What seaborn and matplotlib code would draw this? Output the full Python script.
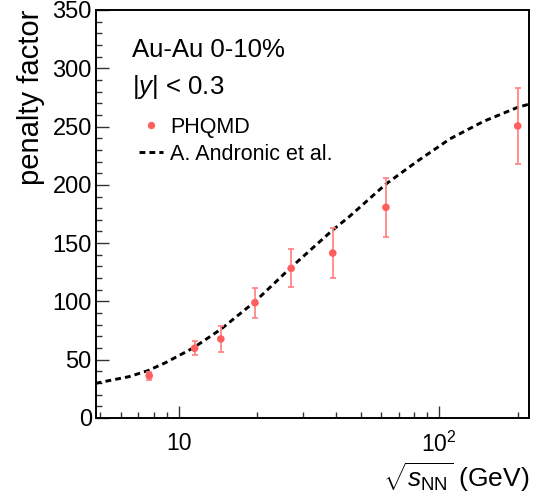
import matplotlib
matplotlib.use("Agg")
import matplotlib.pyplot as plt
from matplotlib.lines import Line2D
from matplotlib.ticker import FixedLocator, FixedFormatter, MultipleLocator, NullFormatter
import seaborn as sns

# PHQMD: collision energy (GeV), penalty factor and its uncertainty
energy = [7.7, 11.5, 14.5, 19.6, 27.0, 39.0, 62.4, 200.0]
penalty = [36.3, 59.8, 67.8, 98.9, 128.4, 141.5, 180.7, 250.5]
penalty_err = [3.5, 6.0, 11.3, 12.9, 16.3, 21.3, 25.6, 33.0]

# A. Andronic et al. curve
curve_energy = [4.8, 6.45, 7.6, 8.9, 11.3, 14.5, 19.6, 27.0, 39.0, 45.0,
                62.4, 82.0, 110.0, 148.0, 200.0, 220.0]
curve_penalty = [29.8, 35.5, 40.6, 47.5, 59.8, 76.1, 99.8, 129.3, 161.3, 172.5,
                 200.7, 220.0, 239.5, 254.5, 266.5, 269.1]

x_major = [10, 100]
x_major_labels = ["10", r"$10^{2}$"]
x_minor = [5, 6, 7, 8, 9, 20, 30, 40, 50, 60, 70, 80, 90, 200]

point_color = "#ff5e5e"
err_color = "#ff7e7e"

sns.set_theme(style="ticks")
plt.rcParams["font.family"] = ["Liberation Sans", "DejaVu Sans"]
plt.rcParams["mathtext.fontset"] = "custom"
plt.rcParams["mathtext.rm"] = "Liberation Sans"
plt.rcParams["mathtext.it"] = "Liberation Sans:italic"
plt.rcParams["mathtext.bf"] = "Liberation Sans:bold"
plt.rcParams["text.color"] = "black"
plt.rcParams["axes.labelcolor"] = "black"
plt.rcParams["xtick.color"] = "black"
plt.rcParams["ytick.color"] = "black"

fig = plt.figure(figsize=(5.46, 5.01), dpi=100)
W, H = 546.0, 501.0
ax = fig.add_axes([96 / W, 1 - 418 / H, (529 - 96) / W, (418 - 10) / H])

dash = (0, (2.0, 1.4))

# theory curve
sns.lineplot(x=curve_energy, y=curve_penalty, ax=ax, color="black",
             linewidth=2.1, linestyle=dash, sort=True,
             estimator=None, zorder=2)
for ln in ax.lines:
    ln.set_dash_capstyle("butt")

# model points with error bars
ax.errorbar(energy, penalty, yerr=penalty_err, fmt="none", ecolor=err_color,
            elinewidth=1.2, capsize=1.9, capthick=1.2, zorder=3)
sns.scatterplot(x=energy, y=penalty, ax=ax, color=point_color, s=30,
                edgecolor="none", linewidth=0, zorder=4)

ax.set_xscale("log")
ax.set_xlim(4.81, 221)
ax.set_ylim(0, 350)

ax.xaxis.set_major_locator(FixedLocator(x_major))
ax.xaxis.set_major_formatter(FixedFormatter(x_major_labels))
ax.xaxis.set_minor_locator(FixedLocator(x_minor))
ax.xaxis.set_minor_formatter(NullFormatter())
ax.yaxis.set_major_locator(MultipleLocator(50))
ax.yaxis.set_minor_locator(MultipleLocator(10))

for s in ax.spines.values():
    s.set_visible(True)
    s.set_linewidth(1.4)
    s.set_color("black")

ax.tick_params(which="both", direction="in", top=False, right=False,
               color="#333333", width=1.0, labelcolor="black")
ax.tick_params(which="major", length=9)
ax.tick_params(which="minor", length=4.5)
ax.tick_params(axis="y", which="major", labelsize=17, pad=3)
ax.tick_params(axis="x", which="major", labelsize=16.5, pad=10)

ax.set_xlabel(r"$\sqrt{s_{\rm NN}}$ (GeV)", fontsize=19, ha="right", va="baseline")
ax.xaxis.set_label_coords(1.0, (418 - 487) / 408)
ax.set_ylabel("penalty factor", fontsize=21, ha="right", va="center",
              rotation_mode="anchor")
ax.yaxis.set_label_coords((31 - 96) / 433, 1.0)

fig.text(131.7 / W, 1 - 57.3 / H, "Au-Au 0-10%", fontsize=18.5, ha="left", va="baseline")
fig.text(131.7 / W, 1 - 94 / H, r"|$\it{y}$| < 0.3", fontsize=18.5, ha="left", va="baseline")

handles = [
    Line2D([], [], linestyle="none", marker="o", markersize=5.3,
           markerfacecolor=point_color, markeredgecolor="none"),
    Line2D([], [], color="black", linewidth=2.1, linestyle=dash,
           dash_capstyle="butt"),
]
leg = ax.legend(handles, ["PHQMD", "A. Andronic et al."], frameon=False,
                fontsize=15.5, loc="upper left",
                bbox_to_anchor=(139 / W, 1 - 116.5 / H), bbox_transform=fig.transFigure,
                borderpad=0, borderaxespad=0, handlelength=1.1, handletextpad=0.35,
                labelspacing=0.3)

fig.savefig("out.png", dpi=100)
